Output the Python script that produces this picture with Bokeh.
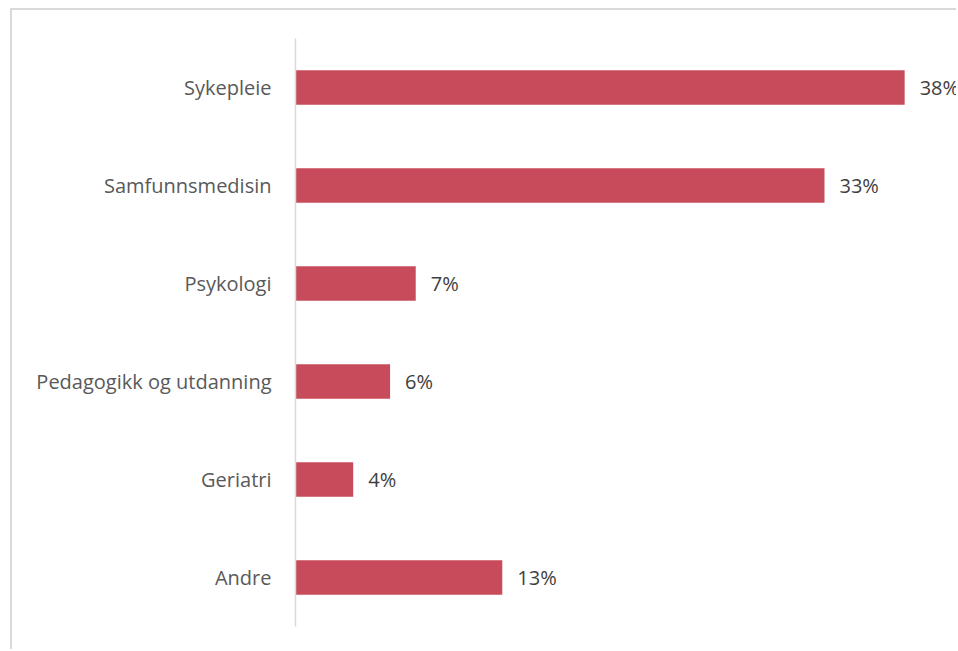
from bokeh.plotting import figure
from bokeh.models import FactorRange, Range1d, ColumnDataSource
from bokeh.core.properties import value
from bokeh.embed import file_html
from bokeh.resources import INLINE

categories = ["Sykepleie", "Samfunnsmedisin", "Psykologi", "Pedagogikk og utdanning", "Geriatri", "Andre"]
values = [38.0, 33.0, 7.5, 5.9, 3.6, 12.9]
labels = ["38%", "33%", "7%", "6%", "4%", "13%"]

BAR_COLOR = "#C84B5B"
FONT = "Open Sans"

W, H = 946, 641
src = ColumnDataSource(dict(cat=categories, val=values, lab=labels))

p = figure(
    width=W, height=H,
    y_range=FactorRange(factors=list(reversed(categories)), range_padding=0),
    x_range=Range1d(0, 41.36),
    output_backend="svg", toolbar_location=None,
    min_border_left=283, min_border_right=0, min_border_top=28, min_border_bottom=25,
)
p.styles = {"border-left": "2px solid #d9d9d9", "border-top": "2px solid #d9d9d9",
            "margin-left": "10px", "margin-top": "8px"}
p.outline_line_color = None
p.background_fill_color = "white"
p.border_fill_color = "white"
p.grid.visible = False
p.xaxis.visible = False

p.hbar(y="cat", right="val", left=0, height=0.35, source=src,
       fill_color=BAR_COLOR, line_color=None)

p.text(x="val", y="cat", text="lab", source=src, x_offset=15,
       text_font=value(FONT), text_font_size="20px", text_color="#404040",
       text_align="left", text_baseline="middle")

ax = p.yaxis[0]
ax.axis_line_color = "#d9d9d9"
ax.axis_line_width = 1.5
ax.major_tick_line_color = None
ax.minor_tick_line_color = None
ax.major_label_standoff = 18
ax.major_label_text_font = FONT
ax.major_label_text_font_size = "20px"
ax.major_label_text_color = "#595959"

open("out.html", "w").write(file_html(p, INLINE))
